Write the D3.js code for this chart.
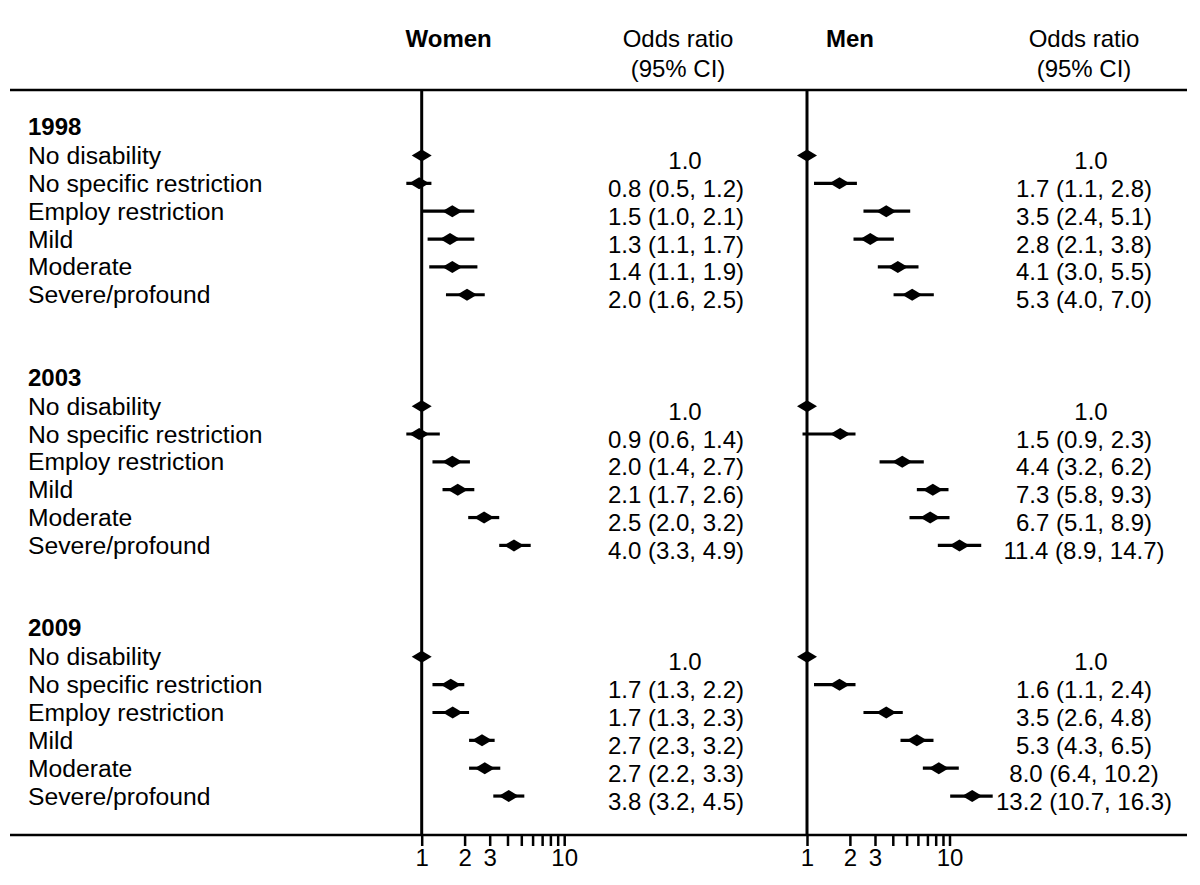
<!DOCTYPE html>
<html>
<head>
<meta charset="utf-8">
<script src="https://cdn.jsdelivr.net/npm/d3@7"></script>
<style>
  html, body { margin: 0; padding: 0; background: #fff; }
  svg { display: block; }
  text { font-family: "Liberation Sans", Arial, Helvetica, sans-serif; fill: #000; }
</style>
</head>
<body>
<svg id="chart" width="1200" height="885"></svg>
<script>
// ---------------- data ----------------
const years = ["1998", "2003", "2009"];
const categories = ["No disability", "No specific restriction", "Employ restriction", "Mild", "Moderate", "Severe/profound"];

// Plotted estimates and CI bounds, rows: year-major, category-minor
const womenEst = [1.0, 0.96, 1.64, 1.58, 1.64, 2.08,
                  1.0, 0.96, 1.64, 1.79, 2.74, 4.44,
                  1.0, 1.60, 1.65, 2.65, 2.77, 4.08];
const womenLo  = [1.0, 0.78, 1.00, 1.10, 1.13, 1.48,
                  1.0, 0.78, 1.19, 1.40, 2.12, 3.50,
                  1.0, 1.19, 1.19, 2.15, 2.15, 3.18];
const womenHi  = [1.0, 1.17, 2.34, 2.34, 2.46, 2.77,
                  1.0, 1.34, 2.18, 2.34, 3.50, 5.82,
                  1.0, 1.99, 2.15, 3.25, 3.56, 5.25];

const menEst = [1.0, 1.69, 3.60, 2.78, 4.34, 5.47,
                1.0, 1.71, 4.66, 7.64, 7.32, 11.75,
                1.0, 1.69, 3.60, 5.90, 8.41, 14.43];
const menLo  = [1.0, 1.12, 2.49, 2.12, 3.14, 4.05,
                1.0, 0.93, 3.23, 5.90, 5.24, 8.28,
                1.0, 1.12, 2.49, 4.53, 6.50, 10.11];
const menHi  = [1.0, 2.24, 5.30, 4.07, 6.06, 7.76,
                1.0, 2.19, 6.60, 9.84, 10.0, 16.7,
                1.0, 2.19, 4.70, 7.72, 11.62, 20.1];

// Printed odds ratio labels
const womenLabels = ["1.0", "0.8 (0.5, 1.2)", "1.5 (1.0, 2.1)", "1.3 (1.1, 1.7)", "1.4 (1.1, 1.9)", "2.0 (1.6, 2.5)",
                     "1.0", "0.9 (0.6, 1.4)", "2.0 (1.4, 2.7)", "2.1 (1.7, 2.6)", "2.5 (2.0, 3.2)", "4.0 (3.3, 4.9)",
                     "1.0", "1.7 (1.3, 2.2)", "1.7 (1.3, 2.3)", "2.7 (2.3, 3.2)", "2.7 (2.2, 3.3)", "3.8 (3.2, 4.5)"];
const menLabels = ["1.0", "1.7 (1.1, 2.8)", "3.5 (2.4, 5.1)", "2.8 (2.1, 3.8)", "4.1 (3.0, 5.5)", "5.3 (4.0, 7.0)",
                   "1.0", "1.5 (0.9, 2.3)", "4.4 (3.2, 6.2)", "7.3 (5.8, 9.3)", "6.7 (5.1, 8.9)", "11.4 (8.9, 14.7)",
                   "1.0", "1.6 (1.1, 2.4)", "3.5 (2.6, 4.8)", "5.3 (4.3, 6.5)", "8.0 (6.4, 10.2)", "13.2 (10.7, 16.3)"];

const tickValues = [1, 2, 3, 4, 5, 6, 7, 8, 9, 10];
const tickLabels = ["1", "2", "3", "", "", "", "", "", "", "10"];

const panelTitles = ["Women", "Men"];
const orHeader = ["Odds ratio", "(95% CI)"];

// ---------------- layout ----------------
const svg = d3.select("#chart");
const FS = 24;
const LFS = 24.7;
const capHalf = FS * 0.716 / 2;
const topY = 90, botY = 835;
const lineX0 = 10, lineX1 = 1187;
const firstRowY = 155.5, rowStep = 27.85, blockRows = 9;
const labelX = 28;

const rowY = (b, r) => firstRowY + (b * blockRows + r) * rowStep;

const panels = [
  { title: panelTitles[0], est: womenEst, lo: womenLo, hi: womenHi, labels: womenLabels,
    x: d3.scaleLog().domain([1, 10]).range([421.7, 564.2]), titleX: 405.5, orX: 676, refX: 685, headX: 678 },
  { title: panelTitles[1], est: menEst, lo: menLo, hi: menHi, labels: menLabels,
    x: d3.scaleLog().domain([1, 10]).range([807, 949.5]), titleX: 826, orX: 1084, refX: 1091, headX: 1084 }
];

// horizontal rules
svg.append("line").attr("x1", lineX0).attr("x2", lineX1).attr("y1", topY).attr("y2", topY)
  .attr("stroke", "#000").attr("stroke-width", 2.5);
svg.append("line").attr("x1", lineX0).attr("x2", lineX1).attr("y1", botY).attr("y2", botY)
  .attr("stroke", "#000").attr("stroke-width", 2.5);

// row labels
years.forEach((yr, b) => {
  svg.append("text").attr("x", labelX).attr("y", rowY(b, 0) - 29 + capHalf)
    .attr("font-size", FS).attr("font-weight", "bold").text(yr);
  categories.forEach((c, r) => {
    svg.append("text").attr("x", labelX).attr("y", rowY(b, r) + capHalf)
      .attr("font-size", LFS).text(c);
  });
});

const rows = [];
years.forEach((yr, b) => categories.forEach((c, r) => rows.push({ b, r, i: b * categories.length + r })));

const diamond = "M-10,0L0,-6L10,0L0,6Z";

panels.forEach(p => {
  const g = svg.append("g");
  // header
  g.append("text").attr("x", p.titleX).attr("y", 38 + capHalf).attr("font-size", FS)
    .attr("font-weight", "bold").text(p.title);
  g.append("text").attr("x", p.headX).attr("y", 38 + capHalf).attr("font-size", FS)
    .attr("text-anchor", "middle").text(orHeader[0]);
  g.append("text").attr("x", p.headX).attr("y", 68 + capHalf).attr("font-size", FS)
    .attr("text-anchor", "middle").text(orHeader[1]);

  // reference line
  g.append("line").attr("x1", p.x(1)).attr("x2", p.x(1)).attr("y1", topY).attr("y2", botY)
    .attr("stroke", "#000").attr("stroke-width", 3);

  // CI lines
  g.selectAll(".ci").data(rows.filter(d => p.lo[d.i] !== p.hi[d.i])).join("line")
    .attr("x1", d => p.x(p.lo[d.i])).attr("x2", d => p.x(p.hi[d.i]))
    .attr("y1", d => rowY(d.b, d.r)).attr("y2", d => rowY(d.b, d.r))
    .attr("stroke", "#000").attr("stroke-width", 3.2);

  // diamonds
  g.selectAll(".pt").data(rows).join("path")
    .attr("d", diamond)
    .attr("transform", d => `translate(${p.x(p.est[d.i])},${rowY(d.b, d.r)})`)
    .attr("fill", "#000");

  // OR text
  g.selectAll(".or").data(rows).join("text")
    .attr("x", d => d.r === 0 ? p.refX : p.orX)
    .attr("y", d => rowY(d.b, d.r) + capHalf + 5)
    .attr("text-anchor", "middle").attr("font-size", FS)
    .text(d => p.labels[d.i]);

  // axis
  const axis = d3.axisBottom(p.x).tickValues(tickValues)
    .tickFormat((d, k) => tickLabels[k]).tickSize(11).tickPadding(3);
  const ag = g.append("g").attr("transform", `translate(0,${botY})`).call(axis);
  ag.select(".domain").remove();
  ag.selectAll(".tick line").attr("stroke", "#000").attr("stroke-width", 2.5);
  ag.selectAll(".tick text").attr("font-size", FS)
    .attr("font-family", "'Liberation Sans', Arial, Helvetica, sans-serif").attr("fill", "#000");
});
</script>
</body>
</html>
